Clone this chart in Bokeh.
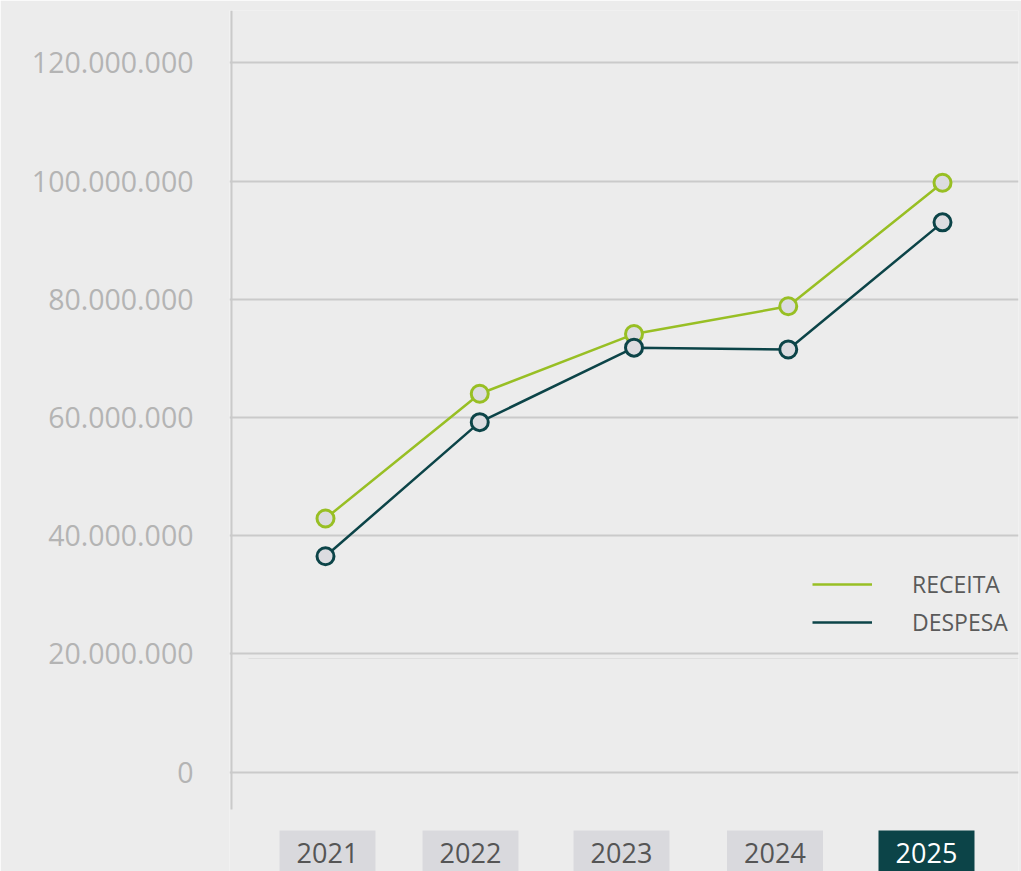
from bokeh.plotting import figure
from bokeh.models import Range1d, FixedTicker, Legend, LegendItem, ColumnDataSource
from bokeh.core.properties import value
from bokeh.embed import file_html
from bokeh.resources import INLINE

# ---- data ----
years = [2021, 2022, 2023, 2024, 2025]
year_labels = ["2021", "2022", "2023", "2024", "2025"]
receita = [42.9e6, 64.0e6, 74.1e6, 78.8e6, 99.7e6]
despesa = [36.5e6, 59.2e6, 71.8e6, 71.5e6, 93.0e6]
y_ticks = [0, 20e6, 40e6, 60e6, 80e6, 100e6, 120e6]
y_tick_labels = ["0", "20.000.000", "40.000.000", "60.000.000", "80.000.000",
                 "100.000.000", "120.000.000"]
highlight_year = "2025"

# ---- layout / style ----
BG = "#ececec"
GREEN = "#98bf24"
TEAL = "#0c4448"
MARKER_FILL = "#dcdce0"
GRID = "#cacaca"
FONT = "Open Sans"

PX_Y = 5.91          # px per million
PX_X = 154.25        # px per year
ZERO_PX = 771.5      # screen y of value 0
FIRST_X_PX = 325     # screen x of first year
BOX_CENTERS_PX = [327, 470, 621, 774.5, 926]   # year label boxes (screen x)
BOX_W_PX = 96


def yval(py):
    return (ZERO_PX - py) / PX_Y * 1e6


def xval(px):
    return years[0] + (px - FIRST_X_PX) / PX_X


W, H = 1021, 871
FRAME_L, FRAME_R, FRAME_T, FRAME_B = 229, 1018, 10, 871
p = figure(width=W, height=H, output_backend="svg", toolbar_location=None,
           min_border_left=FRAME_L, min_border_right=W - FRAME_R,
           min_border_top=FRAME_T, min_border_bottom=H - FRAME_B,
           background_fill_color=BG, border_fill_color=BG, outline_line_color=None)

p.y_range = Range1d(yval(FRAME_B), yval(FRAME_T))
p.x_range = Range1d(xval(FRAME_L), xval(FRAME_R))

# axes
p.xaxis.visible = False
p.xgrid.visible = False
yax = p.yaxis[0]
yax.ticker = FixedTicker(ticks=y_ticks)
yax.major_label_overrides = {t: l for t, l in zip(y_ticks, y_tick_labels)}
yax.axis_line_color = None
yax.major_tick_line_color = None
yax.minor_tick_line_color = None
yax.major_label_standoff = 30
yax.major_label_text_font = FONT
yax.major_label_text_font_size = "28.5px"
yax.major_label_text_color = "#b4b4b4"
p.ygrid.ticker = FixedTicker(ticks=y_ticks)
p.ygrid.grid_line_color = GRID
p.ygrid.grid_line_width = 2

# vertical axis line (ends above the category boxes)
p.segment(x0=[xval(231)], y0=[yval(809)], x1=[xval(231)], y1=[yval(FRAME_T)],
          line_color=GRID, line_width=2)
# faint double line beneath the 20M gridline
p.segment(x0=[xval(248)], y0=[yval(658)], x1=[xval(FRAME_R)], y1=[yval(658)],
          line_color="#dedede", line_width=1)

# category boxes
box_src = ColumnDataSource(dict(
    left=[xval(c - BOX_W_PX / 2) for c in BOX_CENTERS_PX],
    right=[xval(c + BOX_W_PX / 2) for c in BOX_CENTERS_PX],
    x=[xval(c) for c in BOX_CENTERS_PX],
    label=year_labels,
    fill=[TEAL if l == highlight_year else "#d9d9dd" for l in year_labels],
    tcol=["#ffffff" if l == highlight_year else "#555555" for l in year_labels],
))
p.quad(left="left", right="right", top=yval(830), bottom=yval(FRAME_B + 20),
       fill_color="fill", line_color=None, source=box_src)
p.text(x="x", y=yval(852), text="label", text_color="tcol", source=box_src,
       text_align="center", text_baseline="middle",
       text_font=value(FONT), text_font_size="27px")

# series
r1 = p.line(years, receita, line_color=GREEN, line_width=2.5)
p.scatter(years, receita, size=17, fill_color=MARKER_FILL, line_color=GREEN, line_width=3)
r2 = p.line(years, despesa, line_color=TEAL, line_width=2.5)
p.scatter(years, despesa, size=17, fill_color=MARKER_FILL, line_color=TEAL, line_width=3)

legend = Legend(items=[LegendItem(label="RECEITA", renderers=[r1]),
                       LegendItem(label="DESPESA", renderers=[r2])],
                location=(812 - FRAME_L, 233), orientation="vertical",
                glyph_width=60, glyph_height=22, label_height=22, label_standoff=40,
                spacing=6, padding=0, margin=0,
                background_fill_alpha=0, border_line_color=None,
                label_text_font=FONT, label_text_font_size="23px",
                label_text_color="#5a5a5a")
p.add_layout(legend, "center")

open("out.html", "w").write(file_html(p, INLINE))
